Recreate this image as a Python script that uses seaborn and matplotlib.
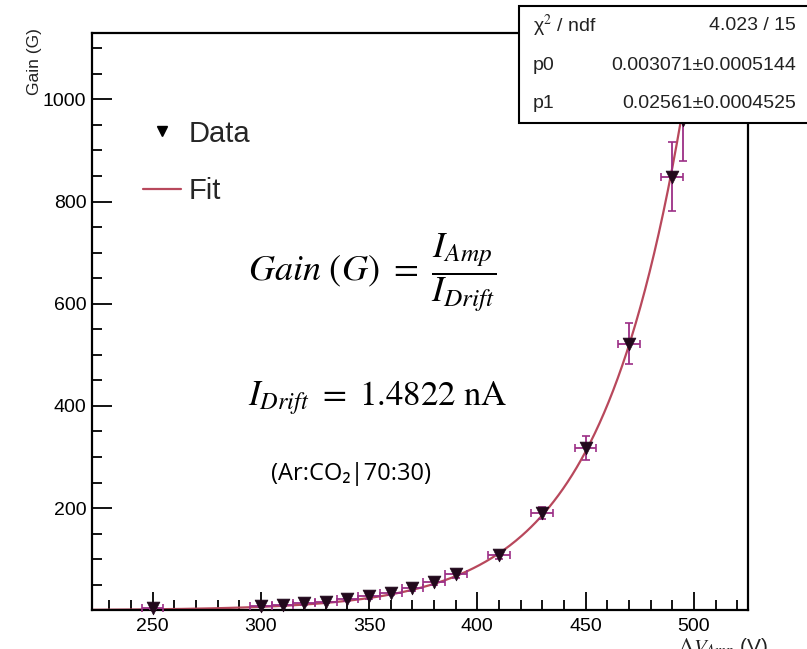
import numpy as np
import pandas as pd
import matplotlib
matplotlib.use("Agg")
import matplotlib.pyplot as plt
from matplotlib.lines import Line2D
from matplotlib.patches import Rectangle
import seaborn as sns

###############################################################################
# Data
###############################################################################
voltage = [250, 300, 310, 320, 330, 340, 350, 360, 370, 380, 390, 410, 430, 450, 470, 490, 495]
gain = [4, 8, 11, 14, 17, 22, 27, 33, 43, 55, 70, 108, 190, 318, 522, 849, 960]
gain_err = [2, 2, 2, 3, 3, 3, 4, 4, 5, 5, 6, 7, 12, 23, 40, 68, 80]
voltage_err = [5, 5, 5, 5, 5, 5, 5, 5, 5, 5, 5, 5, 5, 5, 5, 5, 5]

# fit results shown in the stats box
stat_names = ["\u03c7$^2$ / ndf", "p0", "p1"]
stat_values = ["4.023 / 15", "0.003071\u00b10.0005144", "0.02561\u00b10.0004525"]
p0 = 0.003071
p1 = 0.02561

x_ticks = [250, 300, 350, 400, 450, 500]
y_ticks = [200, 400, 600, 800, 1000]

df = pd.DataFrame({"V": voltage, "G": gain, "dG": gain_err, "dV": voltage_err})

###############################################################################
# Style
###############################################################################
sns.set_theme(style="white")
plt.rcParams["font.family"] = ["Liberation Sans", "DejaVu Sans"]
plt.rcParams["mathtext.fontset"] = "stix"

W, H = 807, 649
fig = plt.figure(figsize=(W / 100, H / 100), dpi=100)
fig.patch.set_facecolor("white")

# frame in pixels: left 92, right 748, top 33, bottom 610
ax = fig.add_axes([92 / W, 1 - 610 / H, (748 - 92) / W, (610 - 33) / H])
ax.set_facecolor("white")

###############################################################################
# Fit curve + data
###############################################################################
xmin, xmax = 222, 525
fit_x = np.linspace(xmin, 502, 400)
fit_df = pd.DataFrame({"V": fit_x, "G": p0 * np.exp(p1 * fit_x)})
sns.lineplot(data=fit_df, x="V", y="G", ax=ax, color="#b8485c", lw=1.6, zorder=2)

ax.errorbar(df["V"], df["G"], yerr=df["dG"], xerr=df["dV"], fmt="none",
            ecolor="#9c2f86", elinewidth=1.3, capsize=3, capthick=1.2,
            zorder=3, clip_on=False)
sns.scatterplot(data=df, x="V", y="G", ax=ax, marker="v", s=85,
                color="#22091c", edgecolor="#22091c", linewidth=0.5,
                zorder=4, clip_on=False)

ax.set_xlim(xmin, xmax)
ax.set_ylim(0.5, 1130)
ax.set_xlabel("")
ax.set_ylabel("")

ax.set_xticks(x_ticks)
ax.set_xticks([v for v in range(230, 525, 10) if v % 50 != 0], minor=True)
ax.set_yticks(y_ticks)
ax.set_yticks([v for v in range(50, 1130, 50) if v % 200 != 0], minor=True)
ax.tick_params(axis="both", which="both", direction="in", colors="black",
               labelsize=14, width=1.3, top=False, right=False,
               bottom=True, left=True)
ax.tick_params(axis="y", which="major", length=14.5, pad=4)
ax.tick_params(axis="y", which="minor", length=7.5)
ax.tick_params(axis="x", which="major", length=13, pad=6)
ax.tick_params(axis="x", which="minor", length=7)
for sp in ax.spines.values():
    sp.set_color("black")
    sp.set_linewidth(1.6)

###############################################################################
# Legend
###############################################################################
handles = [
    Line2D([], [], marker="v", ls="none", color="black", markersize=7),
    Line2D([], [], color="#b8485c", lw=1.6),
]
ax.legend(handles, ["Data", "Fit"], loc="center left",
          bbox_to_anchor=(0.078, 0.776), frameon=False, fontsize=21,
          borderpad=0, borderaxespad=0, labelspacing=1.0,
          handlelength=1.3, handletextpad=0.25)

###############################################################################
# Annotations
###############################################################################
fig.text(248 / W, 1 - 273 / H, r"$Gain\ (G)\ =\ \dfrac{I_{Amp}}{I_{Drift}}$",
         fontsize=26, ha="left", va="center", color="black")
fig.text(248 / W, 1 - 398 / H, r"$I_{Drift}\ =\ 1.4822\ \mathrm{nA}$",
         fontsize=25, ha="left", va="center", color="black")
fig.text(271 / W, 1 - 474 / H, "(Ar:CO\u2082|70:30)", fontsize=17,
         ha="left", va="center", color="black",
         family=["Open Sans", "Noto Sans", "DejaVu Sans"])

# axis titles (ROOT style, at the ends of the axes)
fig.text(35 / W, 1 - 28 / H, "Gain (G)", rotation=90, fontsize=12.5,
         ha="center", va="top", color="#222222")
fig.text(768 / W, 1 - 636 / H, r"$\Delta V_{Amp}$ (V)", fontsize=15,
         ha="right", va="top", color="#222222",
         family=["Liberation Sans", "DejaVu Sans"])

###############################################################################
# Stats box (top right, over the frame)
###############################################################################
box = Rectangle((519 / W, 1 - 123 / H), (812 - 519) / W, (123 - 6) / H,
                transform=fig.transFigure, facecolor="white",
                edgecolor="black", lw=1.5, zorder=10)
fig.add_artist(box)
rows_y = [26, 66, 104]
for name, val, yy in zip(stat_names, stat_values, rows_y):
    fig.text(533 / W, 1 - yy / H, name, fontsize=14, ha="left", va="center",
             color="#222222", zorder=11)
    fig.text(796 / W, 1 - yy / H, val, fontsize=14, ha="right", va="center",
             color="#222222", zorder=11)

fig.savefig("out.png", dpi=100)
